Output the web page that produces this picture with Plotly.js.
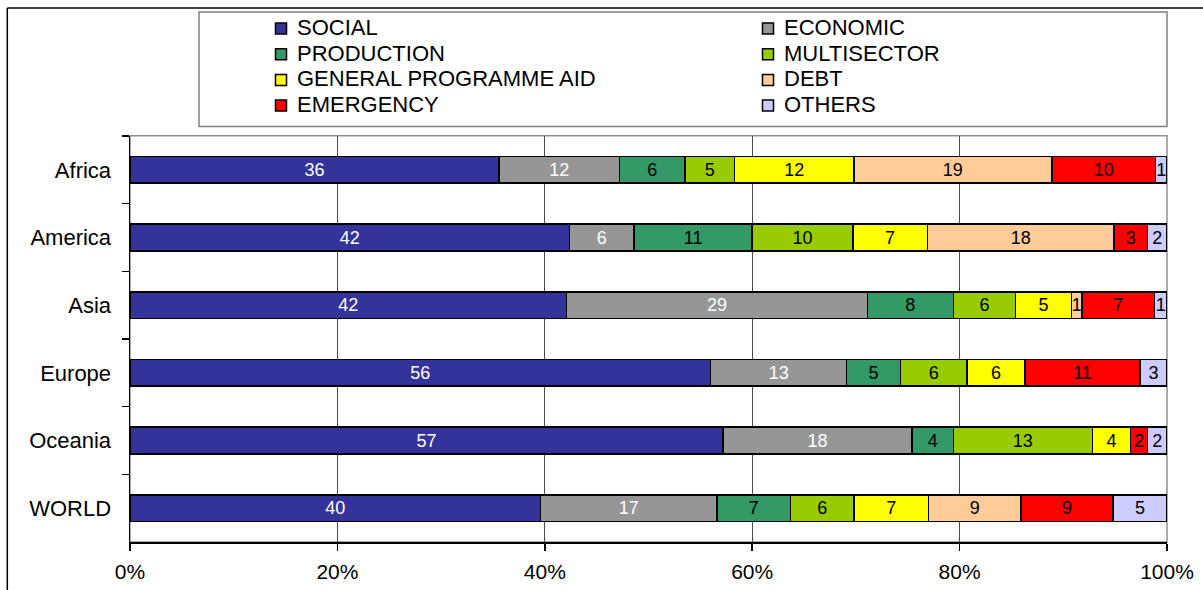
<!DOCTYPE html>
<html>
<head>
<meta charset="utf-8">
<script src="https://cdn.plot.ly/plotly-3.0.1.min.js"></script>
<style>
  html, body { margin: 0; padding: 0; background: #ffffff; }
  #chart { width: 1203px; height: 590px; }
</style>
</head>
<body>
<div id="chart"></div>
<script>
// ---- Data (percent shares) ----
var regions = ["Africa", "America", "Asia", "Europe", "Oceania", "WORLD"];

var sectorNames = ["SOCIAL", "ECONOMIC", "PRODUCTION", "MULTISECTOR",
                   "GENERAL PROGRAMME AID", "DEBT", "EMERGENCY", "OTHERS"];

var social      = [35.6, 42.4, 42.1, 56.0, 57.2, 39.6];
var economic    = [11.6,  6.2, 29.0, 13.1, 18.2, 17.0];
var production  = [ 6.3, 11.4,  8.3,  5.2,  4.0,  7.1];
var multisector = [ 4.8,  9.7,  6.0,  6.4, 13.4,  6.1];
var programme   = [11.5,  7.2,  5.4,  5.6,  3.7,  7.2];
var debt        = [19.1, 18.0,  1.0,  0.0,  0.0,  8.9];
var emergency   = [10.0,  3.2,  7.0, 11.1,  1.6,  8.9];
var others      = [ 1.1,  1.9,  1.2,  2.6,  1.9,  5.2];

var xTickVals   = [0, 20, 40, 60, 80, 100];

// ---- Styles ----
var sectorValues = [social, economic, production, multisector, programme, debt, emergency, others];
var sectorColors = ["#333399", "#969696", "#339966", "#99CC00",
                    "#FFFF00", "#FFCC99", "#FF0000", "#CCCCFF"];
var textColors   = ["#ffffff", "#ffffff", "#000000", "#000000",
                    "#000000", "#000000", "#000000", "#000000"];

var FONT = "Liberation Sans, Arial, sans-serif";

// pixel helpers for layout decorations (plot area: x 130..1167, y 136..542)
var L = 130, R = 36, T = 136, B = 48, W = 1203, H = 590;
var PW = W - L - R, PH = H - T - B;
function px(x) { return (x - L) / PW; }
function py(y) { return (H - B - y) / PH; }

var traces = sectorNames.map(function (name, i) {
  var vals = sectorValues[i];
  return {
    type: "bar",
    orientation: "h",
    name: name,
    y: regions,
    x: vals,
    text: vals.map(function (v) { return v > 0 ? String(Math.round(v)) : ""; }),
    textposition: "inside",
    insidetextanchor: "middle",
    textangle: 0,
    constraintext: "none",
    insidetextfont: { family: FONT, size: 18, color: textColors[i] },
    marker: { color: sectorColors[i], line: { color: "#000000", width: 1.5 } },
    hoverinfo: "skip",
    showlegend: false
  };
});

// ---- Custom legend (two columns) ----
var shapes = [];
var annotations = [];
var colMarkerX = [281, 768];
var colTextX = [295, 782];
var rowY = [28.5, 54.2, 79.9, 105.6];
sectorNames.forEach(function (name, i) {
  var col = i % 2, row = Math.floor(i / 2);
  var cx = colMarkerX[col], cy = rowY[row];
  shapes.push({
    type: "rect", xref: "paper", yref: "paper",
    x0: px(cx - 5.5), x1: px(cx + 5.5), y0: py(cy + 5.5), y1: py(cy - 5.5),
    fillcolor: sectorColors[i], line: { color: "#000000", width: 1.5 }
  });
  annotations.push({
    xref: "paper", yref: "paper",
    x: px(colTextX[col]), y: py(cy - 1),
    xanchor: "left", yanchor: "middle",
    text: name, showarrow: false,
    font: { family: FONT, size: 22, color: "#000000" }
  });
});

// legend frame
shapes.push({
  type: "rect", xref: "paper", yref: "paper",
  x0: px(199), x1: px(1167), y0: py(126.5), y1: py(12),
  line: { color: "#808080", width: 1.5 }, fillcolor: "rgba(0,0,0,0)"
});
// plot area frame (grey)
shapes.push({
  type: "rect", xref: "paper", yref: "paper", layer: "below",
  x0: 0, x1: 1, y0: 0, y1: py(135.7),
  line: { color: "#909090", width: 1.5 }, fillcolor: "rgba(0,0,0,0)"
});
// outer chart frame (top and left edges visible)
shapes.push({
  type: "line", xref: "paper", yref: "paper",
  x0: px(7.3), x1: px(1210), y0: py(8), y1: py(8),
  line: { color: "#000000", width: 1.5 }
});
shapes.push({
  type: "line", xref: "paper", yref: "paper",
  x0: px(7.3), x1: px(7.3), y0: py(8), y1: py(600),
  line: { color: "#000000", width: 1.5 }
});

var layout = {
  width: W, height: H,
  margin: { l: L, r: R, t: T, b: B, pad: 0 },
  paper_bgcolor: "#ffffff",
  plot_bgcolor: "rgba(0,0,0,0)",
  barmode: "stack",
  barnorm: "percent",
  bargap: 0.607,
  showlegend: false,
  font: { family: FONT, size: 21, color: "#000000" },
  xaxis: {
    range: [0, 100],
    tickvals: xTickVals,
    ticktext: xTickVals.map(function (v) { return v + "%"; }),
    showgrid: true, gridcolor: "#4a4a4a", gridwidth: 1,
    zeroline: false,
    showline: true, linecolor: "#000000", linewidth: 1.5,
    ticks: "outside", ticklen: 7, tickcolor: "#000000", tickwidth: 1.5,
    ticklabelstandoff: 3,
    tickfont: { family: FONT, size: 21, color: "#000000" },
    fixedrange: true
  },
  yaxis: {
    type: "category",
    categoryorder: "array", categoryarray: regions,
    autorange: "reversed",
    showgrid: false, zeroline: false,
    showline: true, linecolor: "#000000", linewidth: 1.5,
    ticks: "outside", tickson: "boundaries", ticklen: 7, tickcolor: "#000000", tickwidth: 1.5,
    ticklabelstandoff: 13,
    tickfont: { family: FONT, size: 22, color: "#000000" },
    fixedrange: true
  },
  shapes: shapes,
  annotations: annotations
};

Plotly.newPlot("chart", traces, layout, { staticPlot: true, displayModeBar: false });
</script>
</body>
</html>
